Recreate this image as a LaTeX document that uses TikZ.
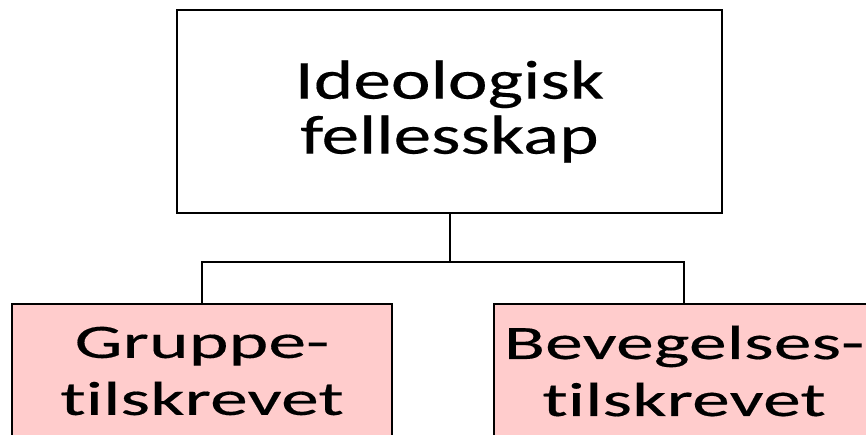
\documentclass[tikz,border=0pt]{standalone}
\usepackage{fontspec}
\newfontfamily\topfont{Carlito}[FakeStretch=1.37, FakeBold=0.3, Ligatures={NoCommon}]
\newfontfamily\botfont{Carlito}[FakeStretch=1.58, FakeBold=0.3, Ligatures={NoCommon}]
\definecolor{boxpink}{RGB}{255,204,204}
\tikzset{
  topbox/.style={draw=black, line width=2.4pt, fill=white, rectangle, inner sep=0pt,
    minimum width=545pt, minimum height=203pt, align=center,
    font=\topfont\fontsize{55}{55}\selectfont},
  pinkbox/.style={draw=black, line width=1.6pt, fill=boxpink, rectangle, inner sep=0pt,
    minimum width=380pt, minimum height=134pt, align=center,
    font=\botfont\fontsize{48}{57}\selectfont},
  conn/.style={draw=black, line width=2pt}
}
\begin{document}
\begin{tikzpicture}[x=1pt,y=-1pt]
\useasboundingbox (0,0) rectangle (866,434);
\clip (0,0) rectangle (866,434);
\fill[white] (0,0) rectangle (866,434);
\node[topbox] (top) at (449.5,111.5) {Ideologisk\\fellesskap};
\node[pinkbox] (left) at (202,371) {Gruppe-\\tilskrevet};
\node[pinkbox] (right) at (684,371) {Bevegelses-\\tilskrevet};
\coordinate (j) at (449.5,262);
\draw[conn] (top.south) -- (j);
\draw[conn] (left.north) |- (j) -| (right.north);
\end{tikzpicture}
\end{document}
